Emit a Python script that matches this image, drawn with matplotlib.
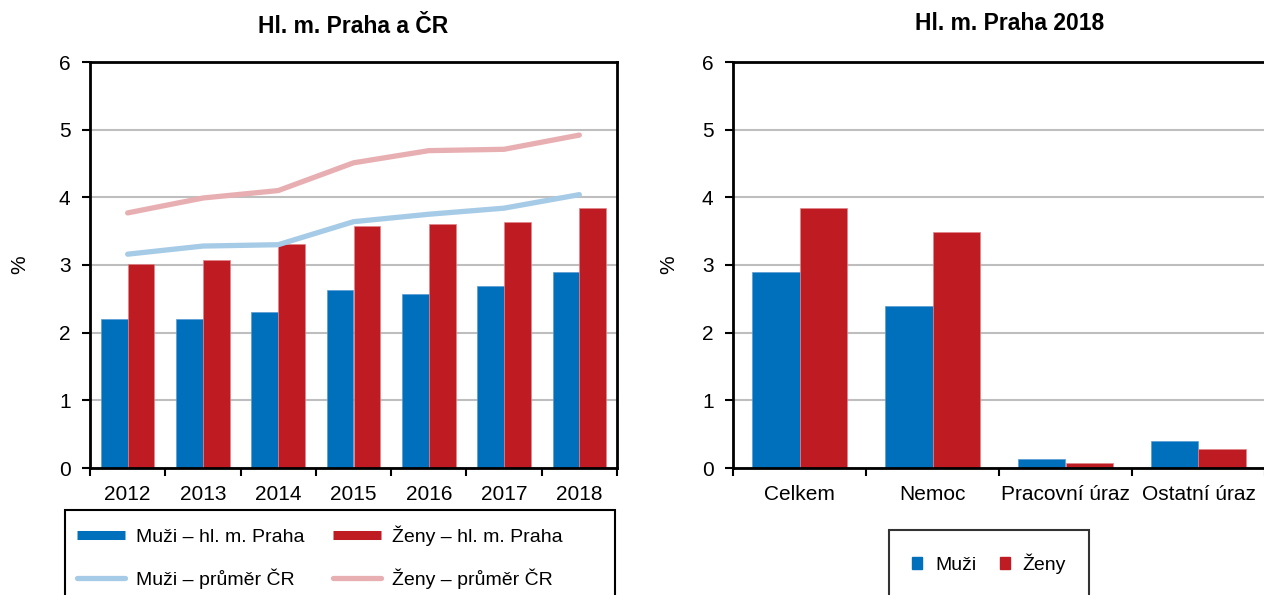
import matplotlib
matplotlib.use("Agg")
import matplotlib.pyplot as plt
import numpy as np
from matplotlib.lines import Line2D
from matplotlib.patches import Patch, Rectangle

plt.rcParams['font.family'] = ['Liberation Sans', 'DejaVu Sans']

years = ['2012', '2013', '2014', '2015', '2016', '2017', '2018']
muzi_praha = [2.2, 2.2, 2.31, 2.63, 2.57, 2.69, 2.9]
zeny_praha = [3.01, 3.07, 3.31, 3.57, 3.60, 3.63, 3.84]
muzi_cr = [3.16, 3.28, 3.30, 3.64, 3.75, 3.84, 4.04]
zeny_cr = [3.77, 3.99, 4.10, 4.51, 4.69, 4.71, 4.92]

cats2018 = ['Celkem', 'Nemoc', 'Pracovní úraz', 'Ostatní úraz']
muzi_2018 = [2.9, 2.4, 0.13, 0.40]
zeny_2018 = [3.84, 3.49, 0.07, 0.28]

BLUE = '#0070BC'
RED = '#BE1B23'
LBLUE = '#A6CBE7'
PINK = '#E8AFB2'
GRID = '#BEBEBE'

W, H = 1264, 595
fig = plt.figure(figsize=(W / 100, H / 100), dpi=100)

def ax_at(x0, y0, x1, y1):
    return fig.add_axes([x0 / W, 1 - y1 / H, (x1 - x0) / W, (y1 - y0) / H])

ax1 = ax_at(90, 62, 617, 468)
ax2 = ax_at(733, 62, 1265, 468)

def style(ax, n, labels, ylab_x):
    ax.set_ylim(0, 6)
    ax.set_xlim(-0.5, n - 0.5)
    ax.set_yticks(range(0, 7))
    ax.yaxis.grid(True, color=GRID, linewidth=1.5)
    ax.set_axisbelow(True)
    ax.set_xticks(np.arange(n + 1) - 0.5)
    ax.set_xticklabels([])
    ax.set_xticks(np.arange(n), minor=True)
    ax.set_xticklabels(labels, minor=True)
    ax.tick_params(axis='x', which='minor', length=0, pad=12, labelsize=15)
    ax.tick_params(axis='x', which='major', length=6, width=1.5, direction='out')
    ax.tick_params(axis='y', length=6, width=1.5, direction='out', labelsize=15, pad=8)
    for s in ax.spines.values():
        s.set_linewidth(2)
        s.set_color('black')
    ax.set_ylabel('%', fontsize=15)
    ax.yaxis.set_label_coords(ylab_x, 0.5)

bw = 0.355
x = np.arange(len(years))
ax1.bar(x - bw / 2, muzi_praha, bw, color=BLUE, edgecolor='#5A9BD5', linewidth=0.5)
ax1.bar(x + bw / 2, zeny_praha, bw, color=RED, edgecolor='#E0868A', linewidth=0.5)
ax1.plot(x, muzi_cr, color=LBLUE, linewidth=3.8, solid_capstyle='round')
ax1.plot(x, zeny_cr, color=PINK, linewidth=3.8, solid_capstyle='round')
style(ax1, len(years), years, -0.115)
ax1.set_title('Hl. m. Praha a ČR', fontsize=16.5, fontweight='bold', pad=21)

x2 = np.arange(len(cats2018))
ax2.bar(x2 - bw / 2, muzi_2018, bw, color=BLUE, edgecolor='#5A9BD5', linewidth=0.5)
ax2.bar(x2 + bw / 2, zeny_2018, bw, color=RED, edgecolor='#E0868A', linewidth=0.5)
style(ax2, len(cats2018), cats2018, -0.103)
ax2.set_title('Hl. m. Praha 2018', fontsize=16.5, fontweight='bold', pad=23, x=0.52)

# Left legend (frame drawn separately)
h1 = [Line2D([], [], color=BLUE, linewidth=6.5, solid_capstyle='butt'),
      Line2D([], [], color=LBLUE, linewidth=3.8, solid_capstyle='round'),
      Line2D([], [], color=RED, linewidth=6.5, solid_capstyle='butt'),
      Line2D([], [], color=PINK, linewidth=3.8, solid_capstyle='round')]
l1 = ['Muži – hl. m. Praha', 'Muži – průměr ČR', 'Ženy – hl. m. Praha', 'Ženy – průměr ČR']
leg1 = fig.legend(h1, l1, ncol=2, loc='upper left',
                  bbox_to_anchor=(65 / W, 1 - 514 / H), fontsize=14,
                  frameon=False,
                  handlelength=2.5, columnspacing=1.45, labelspacing=1.15,
                  borderpad=0.6, handletextpad=0.55, borderaxespad=0)
fig.patches.append(Rectangle((65 / W, -0.02), (615 - 65) / W, (595 - 510) / H + 0.02,
                             transform=fig.transFigure, facecolor='none',
                             edgecolor='black', linewidth=1.5))

h2 = [Patch(color=BLUE), Patch(color=RED)]
leg2 = fig.legend(h2, ['Muži', 'Ženy'], ncol=2, loc='upper left',
                  bbox_to_anchor=(889 / W, 1 - 530 / H), fontsize=14,
                  frameon=True, fancybox=False, edgecolor='black',
                  handlelength=0.52, handleheight=0.52, columnspacing=1.2,
                  borderpad=1.2, handletextpad=0.65, borderaxespad=0)
leg2.get_frame().set_linewidth(1.5)

fig.savefig('out.png', dpi=100)
